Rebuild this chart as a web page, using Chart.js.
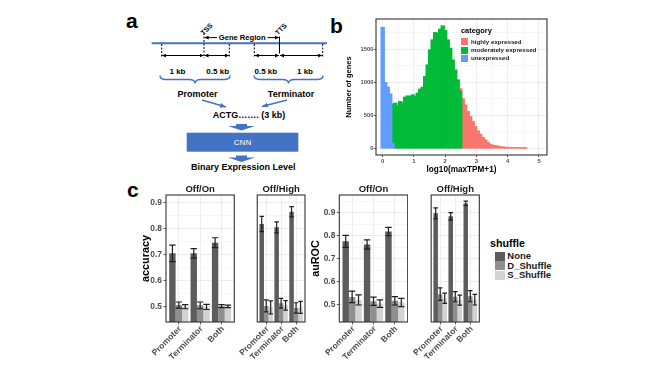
<!DOCTYPE html>
<html><head><meta charset="utf-8">
<title>Expression prediction figure</title>
<script src="https://cdn.jsdelivr.net/npm/chart.js@4.4.1/dist/chart.umd.min.js"></script>
<style>
html,body{margin:0;padding:0;background:#fff;}
body{width:661px;height:371px;position:relative;overflow:hidden;font-family:"Liberation Sans",Arial,sans-serif;}
canvas{position:absolute;}
svg{position:absolute;left:0;top:0;}
.t{position:absolute;white-space:nowrap;font-weight:bold;}
.k{position:absolute;}
</style></head><body>
<svg width="661" height="371" font-family="Liberation Sans, Arial, sans-serif" font-weight="bold">
  <defs>
    <marker id="ahk" markerWidth="4" markerHeight="4" refX="4" refY="2" orient="auto-start-reverse" markerUnits="userSpaceOnUse"><path d="M0,0 L4,2 L0,4 z" fill="#000"/></marker>
    <marker id="ahb" markerWidth="6" markerHeight="5" refX="6" refY="2.5" orient="auto" markerUnits="userSpaceOnUse"><path d="M0,0 L6,2.5 L0,5 z" fill="#4472C4"/></marker>
  </defs>
  <text x="126" y="28" font-size="21">a</text>
  <text x="330" y="33.3" font-size="21">b</text>
  <text x="127" y="197" font-size="21">c</text>
  <line x1="151.7" y1="43.3" x2="327" y2="43.3" stroke="#4472C4" stroke-width="2"/>
  <g stroke="#000" stroke-width="1" stroke-dasharray="2 1.5" fill="none">
    <line x1="161.7" y1="44" x2="161.7" y2="58"/>
    <line x1="204" y1="33" x2="204" y2="58"/>
    <line x1="229.3" y1="44" x2="229.3" y2="58"/>
    <line x1="254.3" y1="44" x2="254.3" y2="58"/>
    <line x1="322.7" y1="44" x2="322.7" y2="58"/>
  </g>
  <line x1="279.5" y1="36.5" x2="279.5" y2="53.5" stroke="#000" stroke-width="1"/>
  <g stroke="#000" stroke-width="1" fill="none">
    <line x1="162.2" y1="55.5" x2="203.5" y2="55.5" marker-start="url(#ahk)" marker-end="url(#ahk)"/>
    <line x1="204.5" y1="55.5" x2="228.8" y2="55.5" marker-start="url(#ahk)" marker-end="url(#ahk)"/>
    <line x1="254.8" y1="55.5" x2="279" y2="55.5" marker-start="url(#ahk)" marker-end="url(#ahk)"/>
    <line x1="280" y1="55.5" x2="322.2" y2="55.5" marker-start="url(#ahk)" marker-end="url(#ahk)"/>
    <line x1="217" y1="37.6" x2="204.6" y2="37.6" marker-end="url(#ahk)"/>
    <line x1="267.5" y1="37.6" x2="279" y2="37.6" marker-end="url(#ahk)"/>
  </g>
  <text x="242.2" y="40.3" font-size="7.6" text-anchor="middle">Gene Region</text>
  <text transform="translate(203.5,35.5) rotate(-45)" font-size="7">TSS</text>
  <text transform="translate(278,35.5) rotate(-45)" font-size="7">TTS</text>
  <g font-size="8" text-anchor="middle">
    <text x="177.5" y="73.6">1 kb</text>
    <text x="217.7" y="73.6">0.5 kb</text>
    <text x="265.8" y="73.6">0.5 kb</text>
    <text x="305" y="73.6">1 kb</text>
  </g>
  <g stroke="#4472C4" stroke-width="1.4" fill="none">
    <path d="M160,75.5 Q160,79.5 166,79.5 L189,79.5 Q195,79.5 195,83.5 Q195,79.5 201,79.5 L224,79.5 Q230,79.5 230,75.5"/>
    <path d="M254,75.5 Q254,79.5 260,79.5 L282.5,79.5 Q288.5,79.5 288.5,83.5 Q288.5,79.5 294.5,79.5 L317,79.5 Q323,79.5 323,75.5"/>
    <line x1="202" y1="100" x2="226" y2="107" stroke-width="1.5" marker-end="url(#ahb)"/>
    <line x1="287" y1="100" x2="262" y2="106.5" stroke-width="1.5" marker-end="url(#ahb)"/>
  </g>
  <g font-size="9" text-anchor="middle">
    <text x="197.5" y="97.2">Promoter</text>
    <text x="291" y="97.2">Terminator</text>
    <text x="249" y="118.2">ACTG……. (3 kb)</text>
    <text x="243.3" y="170.2">Binary Expression Level</text>
  </g>
  <polygon points="236,124 247,124 247,126 255,126 241.5,130.5 228,126 236,126" fill="#4472C4"/>
  <rect x="186.7" y="132.7" width="111.6" height="19" fill="#4472C4"/>
  <text x="242.5" y="145" font-size="8" font-weight="normal" fill="#fff" text-anchor="middle">CNN</text>
  <polygon points="236,155.5 247,155.5 247,157.5 255,157.5 241.5,162 228,157.5 236,157.5" fill="#4472C4"/>
</svg>

<canvas id="hist" width="219" height="168" style="left:336px;top:10px"></canvas>
<canvas id="accOn" width="97" height="189" style="left:138px;top:182px"></canvas>
<canvas id="accHigh" width="70" height="189" style="left:236px;top:182px"></canvas>
<canvas id="aucOn" width="98" height="189" style="left:310px;top:182px"></canvas>
<canvas id="aucHigh" width="70" height="189" style="left:410px;top:182px"></canvas>
<div id="legB"></div>
<div id="legC"></div>

<script>
// ================= DATA =================
// Panel b: histogram of log10(maxTPM+1), bin centres (width 0.08)
const histBins = [0, 0.08, 0.16, 0.24, 0.32, 0.40, 0.48, 0.56, 0.64, 0.72, 0.80, 0.88, 0.96, 1.04, 1.12, 1.20, 1.28, 1.36, 1.44, 1.52, 1.60, 1.68, 1.76, 1.84, 1.92, 2.00, 2.08, 2.16, 2.24, 2.32, 2.40, 2.48, 2.56, 2.64, 2.72, 2.80, 2.88, 2.96, 3.04, 3.12, 3.20, 3.28, 3.36, 3.44, 3.52, 3.60, 3.68, 3.76, 3.84, 3.92, 4.00, 4.08, 4.16, 4.24, 4.32, 4.40, 4.48, 4.56];
const histCategories = ['highly expressed', 'moderately expressed', 'unexpressed'];
const unexpressedStart = 0;
const unexpressedCounts = [1830, 995, 925, 820, 75];
const moderatelyStart = 4;
const moderatelyCounts = [592, 682, 641, 706, 682, 773, 792, 782, 808, 782, 833, 894, 924, 1085, 1262, 1490, 1641, 1752, 1742, 1803, 1853, 1782, 1641, 1515, 1338, 1186, 1035, 860];
const highlyStart = 31;
const highlyCounts = [40, 750, 655, 555, 479, 403, 327, 262, 212, 161, 126, 91, 61, 45, 39, 30, 24, 18, 15, 12, 10, 9, 7, 5, 4, 3, 2];
const histXTicks = [0, 1, 2, 3, 4, 5];
const histXLabels = ['0', '1', '2', '3', '4', '5'];
const histXMinor = [0.5, 1.5, 2.5, 3.5, 4.5];
const histYTicks = [0, 500, 1000, 1500];
const histYLabels = ['0', '500', '1000', '1500'];
const histYMinor = [250, 750, 1250, 1750];

// Panel c
const groups = ['Promoter', 'Terminator', 'Both'];
const facets = ['Off/On', 'Off/High'];
const shuffleLevels = ['None', 'D_Shuffle', 'S_Shuffle'];
const metricTicks = [0.5, 0.6, 0.7, 0.8, 0.9];
const metricTickLabels = ['0.5', '0.6', '0.7', '0.8', '0.9'];
const metricMinor = [0.45, 0.55, 0.65, 0.75, 0.85, 0.95];

// accuracy, Off/On
const accOnNone = [0.705, 0.705, 0.746];
const accOnNoneErr = [0.032, 0.018, 0.019];
const accOnD = [0.506, 0.505, 0.502];
const accOnDErr = [0.012, 0.013, 0.006];
const accOnS = [0.500, 0.499, 0.501];
const accOnSErr = [0.008, 0.010, 0.005];
// accuracy, Off/High
const accHighNone = [0.818, 0.805, 0.865];
const accHighNoneErr = [0.029, 0.021, 0.020];
const accHighD = [0.503, 0.513, 0.495];
const accHighDErr = [0.023, 0.019, 0.020];
const accHighS = [0.497, 0.505, 0.497];
const accHighSErr = [0.025, 0.018, 0.023];
// auROC, Off/On
const aucOnNone = [0.776, 0.762, 0.818];
const aucOnNoneErr = [0.026, 0.020, 0.018];
const aucOnD = [0.535, 0.516, 0.518];
const aucOnDErr = [0.025, 0.018, 0.018];
const aucOnS = [0.522, 0.506, 0.511];
const aucOnSErr = [0.022, 0.016, 0.018];
// auROC, Off/High
const aucHighNone = [0.897, 0.884, 0.940];
const aucHighNoneErr = [0.024, 0.016, 0.010];
const aucHighD = [0.547, 0.536, 0.538];
const aucHighDErr = [0.027, 0.022, 0.024];
const aucHighS = [0.529, 0.521, 0.523];
const aucHighSErr = [0.022, 0.022, 0.023];

// ================= STYLE =================
const histColors = {'highly expressed': '#F8766D', 'moderately expressed': '#00BA38', 'unexpressed': '#619CFF'};
const shuffleColors = ['#5c5c5c', '#8f8f8f', '#d3d3d3'];
const FONT = '"Liberation Sans", Arial, sans-serif';
Chart.defaults.font.family = FONT;
Chart.defaults.devicePixelRatio = 1;
const GRID_MAJOR = '#e9e9e9', GRID_MINOR = '#f4f4f4', AXIS_TEXT = '#4d4d4d';

const isIn = (arr, v) => arr.some(a => Math.abs(a - v) < 1e-9);

const panelPlugin = {
  id: 'panel',
  afterDatasetsDraw(chart) {
    const {ctx, chartArea: a} = chart;
    ctx.save();
    ctx.beginPath();
    ctx.rect(a.left, a.top, a.right - a.left, a.bottom - a.top);
    ctx.clip();
    chart.data.datasets.forEach((ds, d) => {
      if (!ds.err) return;
      const meta = chart.getDatasetMeta(d);
      const ys = chart.scales.y;
      meta.data.forEach((bar, j) => {
        const v = ds.data[j].y, e = ds.err[j];
        const hi = ys.getPixelForValue(v + e), lo = ys.getPixelForValue(v - e);
        const hw = bar.width * 0.5;
        ctx.strokeStyle = '#1e1e1e';
        ctx.lineWidth = 1.2;
        ctx.beginPath();
        ctx.moveTo(bar.x, hi); ctx.lineTo(bar.x, lo);
        ctx.moveTo(bar.x - hw, hi); ctx.lineTo(bar.x + hw, hi);
        ctx.moveTo(bar.x - hw, lo); ctx.lineTo(bar.x + hw, lo);
        ctx.stroke();
      });
    });
    ctx.restore();
    ctx.save();
    ctx.strokeStyle = '#333';
    ctx.lineWidth = 1.1;
    ctx.strokeRect(a.left, a.top, a.right - a.left, a.bottom - a.top);
    ctx.restore();
  }
};

// ================= PANEL b =================
function catData(start, counts) {
  return counts.map((c, i) => ({x: histBins[start + i], y: c}));
}
const histSeries = {
  'unexpressed': catData(unexpressedStart, unexpressedCounts),
  'moderately expressed': catData(moderatelyStart, moderatelyCounts),
  'highly expressed': catData(highlyStart, highlyCounts)
};
new Chart(document.getElementById('hist'), {
  type: 'bar',
  data: {
    datasets: ['unexpressed', 'moderately expressed', 'highly expressed'].map(cat => ({
      label: cat,
      data: histSeries[cat],
      backgroundColor: histColors[cat],
      borderWidth: 0,
      inflateAmount: 0.6,
      barThickness: 3.2
    }))
  },
  options: {
    responsive: false, animation: false,
    layout: {padding: {left: 0, right: 8, top: 9, bottom: 0}},
    plugins: {legend: {display: false}, tooltip: {enabled: false}},
    scales: {
      x: {
        type: 'linear', stacked: true, offset: false, min: -0.214, max: 5.256,
        afterBuildTicks: s => { s.ticks = [...histXTicks, ...histXMinor].sort((a, b) => a - b).map(v => ({value: v})); },
        afterFit: s => { s.height = 23; },
        ticks: {autoSkip: false, maxRotation: 0, padding: 0.5, color: AXIS_TEXT, font: {size: 5.8, weight: 'bold'},
          callback: v => { const i = histXTicks.findIndex(t => Math.abs(t - v) < 1e-9); return i >= 0 ? histXLabels[i] : ''; }},
        grid: {offset: false, lineWidth: 0.8, tickLength: 2, color: c => isIn(histXTicks, c.tick.value) ? GRID_MAJOR : GRID_MINOR,
          tickColor: c => isIn(histXTicks, c.tick.value) ? '#333' : 'rgba(0,0,0,0)'},
        border: {display: false},
        title: {display: true, text: 'log10(maxTPM+1)', color: '#000', font: {size: 8.2, weight: 'bold'}, padding: {top: 0, bottom: 3.8}}
      },
      y: {
        stacked: true, min: -101.5, max: 1959,
        afterBuildTicks: s => { s.ticks = [...histYTicks, ...histYMinor].sort((a, b) => a - b).map(v => ({value: v})); },
        afterFit: s => { s.width = 40; },
        ticks: {autoSkip: false, padding: 0.5, color: AXIS_TEXT, font: {size: 5.8, weight: 'bold'},
          callback: v => { const i = histYTicks.indexOf(v); return i >= 0 ? histYLabels[i] : ''; }},
        grid: {lineWidth: 0.8, tickLength: 2, color: c => isIn(histYTicks, c.tick.value) ? GRID_MAJOR : GRID_MINOR,
          tickColor: c => isIn(histYTicks, c.tick.value) ? '#333' : 'rgba(0,0,0,0)'},
        border: {display: false},
        title: {display: true, text: 'Number of genes', color: '#000', font: {size: 7.5, weight: 'bold'}, padding: {top: 8, bottom: 0}}
      }
    }
  },
  plugins: [panelPlugin]
});

// ================= PANEL c =================
function facetChart(id, cfg) {
  const showY = !!cfg.yTitle;
  return new Chart(document.getElementById(id), {
    type: 'bar',
    data: {
      datasets: shuffleLevels.map((lvl, k) => ({
        label: lvl,
        data: groups.map((g, i) => ({x: i + 1, y: cfg.values[k][i]})),
        err: cfg.errors[k],
        backgroundColor: shuffleColors[k],
        borderWidth: 0,
        categoryPercentage: 0.9,
        barPercentage: 1
      }))
    },
    options: {
      responsive: false, animation: false,
      layout: {padding: cfg.padding},
      plugins: {
        legend: {display: false}, tooltip: {enabled: false},
        title: {display: true, fullSize: false, text: cfg.facet, color: '#1a1a1a', font: {size: 9.5, weight: 'bold'}, padding: {top: 1.6, bottom: 0}}
      },
      scales: {
        x: {
          type: 'linear', offset: false, min: 0.4, max: 3.6,
          afterBuildTicks: s => { s.ticks = groups.map((g, i) => ({value: i + 1})); },
          afterFit: s => { s.height = 49; },
          ticks: {autoSkip: false, minRotation: 45, maxRotation: 45, padding: -0.5, labelOffset: 1.5, color: AXIS_TEXT, font: {size: 8.5, weight: 'bold'},
            callback: v => groups[Math.round(v) - 1] || ''},
          grid: {offset: false, lineWidth: 0.8, tickLength: 2.5, color: GRID_MAJOR, tickColor: '#333'},
          border: {display: false}
        },
        y: {
          min: cfg.min, max: cfg.max,
          afterBuildTicks: s => { s.ticks = [...metricTicks, ...metricMinor].filter(v => v >= cfg.min && v <= cfg.max).sort((a, b) => a - b).map(v => ({value: v})); },
          afterFit: s => { s.width = cfg.yWidth; },
          ticks: {display: showY, autoSkip: false, padding: 1.5, color: AXIS_TEXT, font: {size: 8.4, weight: 'bold'},
            callback: v => { const i = metricTicks.findIndex(t => Math.abs(t - v) < 1e-9); return i >= 0 ? metricTickLabels[i] : ''; }},
          grid: {lineWidth: 0.8, tickLength: 2.5, drawTicks: showY, color: c => isIn(metricTicks, c.tick.value) ? GRID_MAJOR : GRID_MINOR,
            tickColor: c => isIn(metricTicks, c.tick.value) ? '#333' : 'rgba(0,0,0,0)'},
          border: {display: false},
          title: {display: showY, text: cfg.yTitle || '', color: '#000', font: {size: 10.8, weight: 'bold'}, padding: {top: cfg.titlePad || 0, bottom: 0}}
        }
      }
    },
    plugins: [panelPlugin]
  });
}

const accRange = {min: 0.441, max: 0.9295};
const aucRange = {min: 0.4263, max: 0.9766};
facetChart('accOn', {facet: facets[0], yTitle: 'accuracy', titlePad: 1.2, yWidth: 28, padding: {left: 0, right: 0.7, top: 0, bottom: 0}, ...accRange,
  values: [accOnNone, accOnD, accOnS], errors: [accOnNoneErr, accOnDErr, accOnSErr]});
facetChart('accHigh', {facet: facets[1], yWidth: 0, padding: {left: 0.7, right: 1, top: 0, bottom: 0}, ...accRange,
  values: [accHighNone, accHighD, accHighS], errors: [accHighNoneErr, accHighDErr, accHighSErr]});
facetChart('aucOn', {facet: facets[0], yTitle: 'auROC', titlePad: 0, yWidth: 29.3, padding: {left: 0, right: 0.3, top: 0, bottom: 0}, ...aucRange,
  values: [aucOnNone, aucOnD, aucOnS], errors: [aucOnNoneErr, aucOnDErr, aucOnSErr]});
facetChart('aucHigh', {facet: facets[1], yWidth: 0, padding: {left: 1, right: 0.7, top: 0, bottom: 0}, ...aucRange,
  values: [aucHighNone, aucHighD, aucHighS], errors: [aucHighNoneErr, aucHighDErr, aucHighSErr]});

// ================= LEGENDS (HTML) =================
function txt(parent, text, left, centerY, size, color) {
  const d = document.createElement('div');
  d.className = 't';
  d.textContent = text;
  d.style.cssText += `left:${left}px;top:${centerY - size / 2}px;font-size:${size}px;line-height:${size}px;height:${size}px;color:${color}`;
  parent.appendChild(d);
}
function key(parent, left, top, w, h, color) {
  const d = document.createElement('div');
  d.className = 'k';
  d.style.cssText = `left:${left}px;top:${top}px;width:${w}px;height:${h}px;background:${color}`;
  parent.appendChild(d);
}
const legB = document.getElementById('legB');
txt(legB, 'category', 461, 31, 7.4, '#000');
histCategories.forEach((cat, i) => {
  key(legB, 461, 38.3 + i * 8.35, 7.3, 6.9, histColors[cat]);
  txt(legB, cat, 471, 41.7 + i * 8.35, 6.2, '#1a1a1a');
});
const legC = document.getElementById('legC');
txt(legC, 'shuffle', 490, 243.3, 10.7, '#000');
shuffleLevels.forEach((lvl, i) => {
  key(legC, 495, 251.7 + i * 9.4, 10, 9, shuffleColors[i]);
  txt(legC, lvl, 507.3, 256.2 + i * 9.4, 9.5, '#1a1a1a');
});
</script>
</body></html>
